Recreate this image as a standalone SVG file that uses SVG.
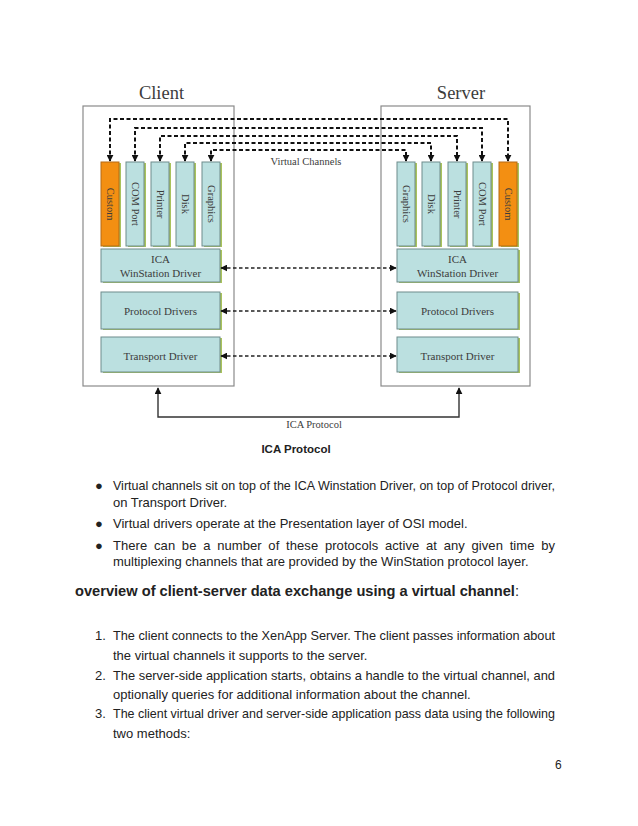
<svg xmlns="http://www.w3.org/2000/svg" width="638" height="826" viewBox="0 0 638 826">
<defs>
<style>
.outer{fill:#fff;stroke:#8a8a8a;stroke-width:1.2}
.box{fill:#bbe0e0;stroke:#6f8c8c;stroke-width:1}
.cust{fill:#f38f12;stroke:#b56b14;stroke-width:1}
.shd{fill:#a9c35c}
.dt{font-family:"Liberation Serif","DejaVu Serif",serif;fill:#3c3c3c}
.title{font-size:18.5px;text-anchor:middle}
.lbl{font-size:11px;text-anchor:middle}
.vlbl{font-size:10.5px;text-anchor:middle}
.dash{fill:none;stroke:#111;stroke-width:2;stroke-dasharray:4 2.5}
.hdash{fill:none;stroke:#222;stroke-width:1.6;stroke-dasharray:3.5 2.5}
.solid{fill:none;stroke:#333;stroke-width:1.4}
.body{font-family:"Liberation Sans",Arial,sans-serif;font-size:13px;fill:#222}
</style>
<marker id="ah" viewBox="0 0 10 10" refX="9" refY="5" markerWidth="7" markerHeight="7" markerUnits="userSpaceOnUse" orient="auto-start-reverse">
<path d="M0,0 L10,5 L0,10 z" fill="#111"/>
</marker>
</defs>
<rect width="638" height="826" fill="#fff"/>

<g id="client">
<rect class="outer" x="83" y="106" width="151" height="280"/>
<text class="dt title" x="161.5" y="99">Client</text>
</g>
<g id="server">
<rect class="outer" x="381" y="106" width="149" height="280"/>
<text class="dt title" x="461" y="99">Server</text>
</g>

<g id="c-custom"><rect class="shd" x="103" y="163" width="18" height="84"/><rect class="cust" x="101" y="162" width="18" height="84"/><text class="dt vlbl" transform="translate(110,204) rotate(90)" y="3.5">Custom</text></g>
<g id="c-com"><rect class="shd" x="128" y="163" width="18" height="84"/><rect class="box" x="126" y="162" width="18" height="84"/><text class="dt vlbl" transform="translate(135,204) rotate(90)" y="3.5">COM Port</text></g>
<g id="c-printer"><rect class="shd" x="153" y="163" width="18" height="84"/><rect class="box" x="151" y="162" width="18" height="84"/><text class="dt vlbl" transform="translate(160,204) rotate(90)" y="3.5">Printer</text></g>
<g id="c-disk"><rect class="shd" x="178" y="163" width="18" height="84"/><rect class="box" x="176" y="162" width="18" height="84"/><text class="dt vlbl" transform="translate(185,204) rotate(90)" y="3.5">Disk</text></g>
<g id="c-graphics"><rect class="shd" x="204" y="163" width="18" height="84"/><rect class="box" x="202" y="162" width="18" height="84"/><text class="dt vlbl" transform="translate(211,204) rotate(90)" y="3.5">Graphics</text></g>

<g id="s-graphics"><rect class="shd" x="399" y="163" width="18" height="84"/><rect class="box" x="397" y="162" width="18" height="84"/><text class="dt vlbl" transform="translate(406,204) rotate(90)" y="3.5">Graphics</text></g>
<g id="s-disk"><rect class="shd" x="424" y="163" width="18" height="84"/><rect class="box" x="422" y="162" width="18" height="84"/><text class="dt vlbl" transform="translate(431,204) rotate(90)" y="3.5">Disk</text></g>
<g id="s-printer"><rect class="shd" x="450" y="163" width="18" height="84"/><rect class="box" x="448" y="162" width="18" height="84"/><text class="dt vlbl" transform="translate(457,204) rotate(90)" y="3.5">Printer</text></g>
<g id="s-com"><rect class="shd" x="475" y="163" width="18" height="84"/><rect class="box" x="473" y="162" width="18" height="84"/><text class="dt vlbl" transform="translate(482,204) rotate(90)" y="3.5">COM Port</text></g>
<g id="s-custom"><rect class="shd" x="501" y="163" width="18" height="84"/><rect class="cust" x="499" y="162" width="18" height="84"/><text class="dt vlbl" transform="translate(508,204) rotate(90)" y="3.5">Custom</text></g>

<g id="c-ica"><rect class="shd" x="103" y="250" width="119" height="33"/><rect class="box" x="101" y="249" width="119" height="33"/><text class="dt lbl" x="160.5" y="263">ICA</text><text class="dt lbl" x="160.5" y="277">WinStation Driver</text></g>
<g id="c-protocol"><rect class="shd" x="103" y="293" width="119" height="37"/><rect class="box" x="101" y="292" width="119" height="37"/><text class="dt lbl" x="160.5" y="315">Protocol Drivers</text></g>
<g id="c-transport"><rect class="shd" x="103" y="338" width="119" height="35"/><rect class="box" x="101" y="337" width="119" height="35"/><text class="dt lbl" x="160.5" y="360">Transport Driver</text></g>

<g id="s-ica"><rect class="shd" x="399" y="250" width="121" height="33"/><rect class="box" x="397" y="249" width="121" height="33"/><text class="dt lbl" x="457.5" y="263">ICA</text><text class="dt lbl" x="457.5" y="277">WinStation Driver</text></g>
<g id="s-protocol"><rect class="shd" x="399" y="293" width="121" height="37"/><rect class="box" x="397" y="292" width="121" height="37"/><text class="dt lbl" x="457.5" y="315">Protocol Drivers</text></g>
<g id="s-transport"><rect class="shd" x="399" y="338" width="121" height="35"/><rect class="box" x="397" y="337" width="121" height="35"/><text class="dt lbl" x="457.5" y="360">Transport Driver</text></g>

<g id="connectors">
<path class="dash" d="M110,161 V119 H508 V161" marker-start="url(#ah)" marker-end="url(#ah)"/>
<path class="dash" d="M135,161 V128 H482 V161" marker-start="url(#ah)" marker-end="url(#ah)"/>
<path class="dash" d="M160,161 V136 H457 V161" marker-start="url(#ah)" marker-end="url(#ah)"/>
<path class="dash" d="M185,161 V143 H431 V161" marker-start="url(#ah)" marker-end="url(#ah)"/>
<path class="dash" d="M211,161 V150 H406 V161" marker-start="url(#ah)" marker-end="url(#ah)"/>
<text class="dt" x="306" y="165" font-size="10.5" text-anchor="middle">Virtual Channels</text>
<path class="hdash" d="M221,268 H396" marker-start="url(#ah)" marker-end="url(#ah)"/>
<path class="hdash" d="M221,311 H396" marker-start="url(#ah)" marker-end="url(#ah)"/>
<path class="hdash" d="M221,356 H396" marker-start="url(#ah)" marker-end="url(#ah)"/>
<path class="solid" d="M158,388 V417 H459 V388" marker-start="url(#ah)" marker-end="url(#ah)"/>
<text class="dt" x="314" y="428" font-size="10.5" text-anchor="middle">ICA Protocol</text>
</g>

<text x="296" y="453" font-family="Liberation Sans,Arial,sans-serif" font-size="11.5" font-weight="bold" fill="#222" text-anchor="middle">ICA Protocol</text>

<g class="body">
<text x="95" y="490">●</text>
<text x="113" y="490" textLength="442" lengthAdjust="spacingAndGlyphs">Virtual channels sit on top of the ICA Winstation Driver, on top of Protocol driver,</text>
<text x="113" y="507">on Transport Driver.</text>
<text x="95" y="528">●</text>
<text x="113" y="528">Virtual drivers operate at the Presentation layer of OSI model.</text>
<text x="95" y="550">●</text>
<text x="113" y="550" textLength="442" lengthAdjust="spacing" word-spacing="3">There can be a number of these protocols active at any given time by</text>
<text x="113" y="566">multiplexing channels that are provided by the WinStation protocol layer.</text>
<text x="75" y="596" font-size="15" textLength="444" lengthAdjust="spacingAndGlyphs"><tspan font-weight="bold">overview of client-server data exchange using a virtual channel</tspan>:</text>
<text x="95" y="640">1.</text>
<text x="113" y="640" textLength="442" lengthAdjust="spacingAndGlyphs">The client connects to the XenApp Server. The client passes information about</text>
<text x="113" y="660">the virtual channels it supports to the server.</text>
<text x="95" y="680">2.</text>
<text x="113" y="680" textLength="442" lengthAdjust="spacingAndGlyphs">The server-side application starts, obtains a handle to the virtual channel, and</text>
<text x="113" y="699">optionally queries for additional information about the channel.</text>
<text x="95" y="718">3.</text>
<text x="113" y="718" textLength="442" lengthAdjust="spacingAndGlyphs">The client virtual driver and server-side application pass data using the following</text>
<text x="113" y="738">two methods:</text>
<text x="555" y="769" font-size="12">6</text>
</g>
</svg>
